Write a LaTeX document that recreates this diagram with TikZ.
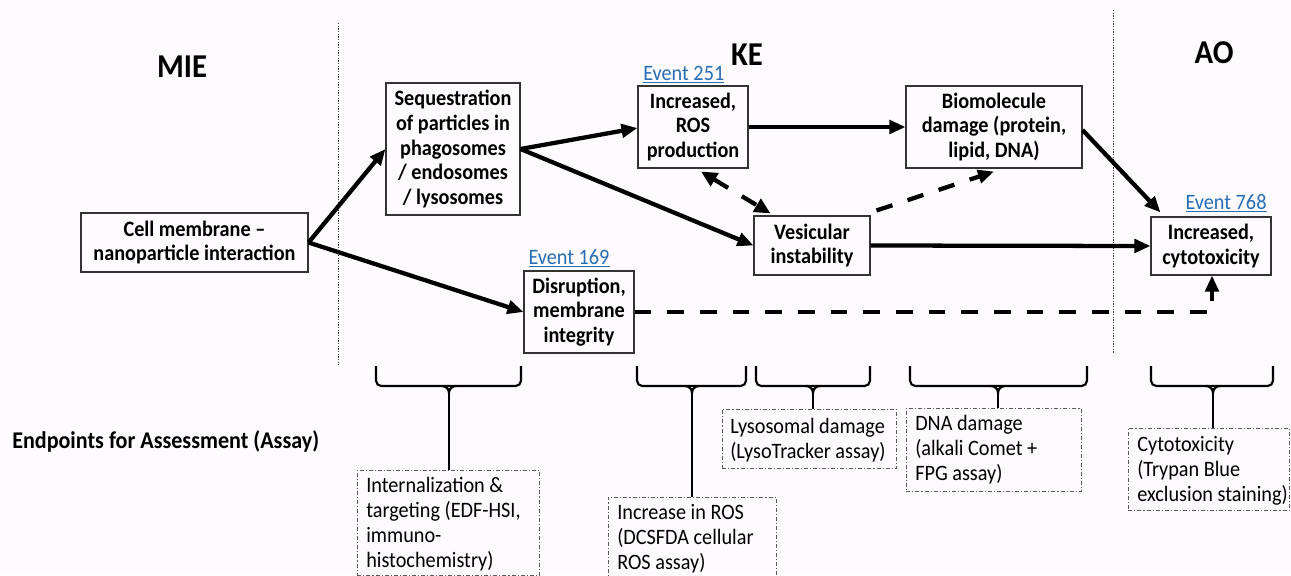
\documentclass[tikz,border=0pt]{standalone}
\usepackage{fontspec}
\setmainfont{Carlito}[FakeStretch=0.92]
\usetikzlibrary{arrows.meta,calc}
\definecolor{evblue}{RGB}{40,110,180}
\definecolor{bgc}{RGB}{253,251,253}
\newcommand\bxf{\fontsize{16.5}{18.4}\selectfont\bfseries}
\newcommand\epf{\fontsize{16.5}{18.75}\selectfont}
\newcommand\mybrace[4]{%
  \draw[brc,rounded corners=4pt] (#1,366) -- (#1,386) -- (#2,386) -- (#2,366);
  \draw[brc] ({#3-7},386) to[out=0,in=90] (#3,393) to[out=90,in=180] ({#3+7},386);
  \draw[brc] (#3,388) -- (#3,#4);}
\begin{document}
\begin{tikzpicture}[x=0.75pt,y=-0.75pt,
  box/.style={draw=black!80,line width=0.8pt,font=\bxf,align=center,inner sep=1pt},
  epbox/.style={draw=black!65,line width=0.6pt,dash pattern=on 3pt off 1.5pt on 0.8pt off 1.5pt,
    inner sep=0pt,anchor=north west},
  eptext/.style={font=\epf,align=left,inner sep=0pt,anchor=west},
  tip/.style={-{Triangle[length=12pt,width=10pt]}},
  arr/.style={line width=3.2pt,tip},
  dsh/.style={line width=3.2pt,dash pattern=on 12.5pt off 12pt},
  brc/.style={line width=1.6pt,black},
  sect/.style={font=\fontsize{25}{27}\selectfont\bfseries},
  ev/.style={font=\fontsize{16.5}{18}\selectfont,text=evblue,inner sep=0pt},
  vline/.style={line width=0.6pt,black!80,dash pattern=on 1pt off 1pt}]
\fill[bgc] (0,0) rectangle (1291,575);
\useasboundingbox (0,0) rectangle (1291,575);
% section lines
\coordinate (l1t) at (338,23); \coordinate (l1b) at (338,365);
\coordinate (l2t) at (1113,10); \coordinate (l2b) at (1113,353);
\draw[vline] (l1t) -- (l1b);
\draw[vline] (l2t) -- (l2b);
% section titles
\node[sect] (mie) at (182,67) {MIE};
\node[sect] (ke) at (747,55) {KE};
\node[sect] (ao) at (1214,53) {AO};
% boxes
\node[box,minimum width=170.25pt,minimum height=44.25pt] (cell) at (194.5,242.5) {Cell membrane –\\nanoparticle interaction};
\node[box,minimum width=100.5pt,minimum height=99pt] (seq) at (453,149) {Sequestration\\of particles in\\phagosomes\\/ endosomes\\/ lysosomes};
\node[box,minimum width=82.5pt,minimum height=61.5pt] (ros) at (693,127) {Increased,\\ROS\\production};
\node[box,minimum width=132pt,minimum height=61.5pt] (bio) at (994,127) {Biomolecule\\damage (protein,\\lipid, DNA)};
\node[box,minimum width=87pt,minimum height=44.25pt] (ves) at (812,245.5) {Vesicular\\instability};
\node[box,minimum width=82.5pt,minimum height=61.5pt] (dis) at (579,312) {Disruption,\\membrane\\integrity};
\node[box,minimum width=90pt,minimum height=43.5pt] (cyto) at (1211,246) {Increased,\\cytotoxicity};
% event labels
\node[ev,anchor=west] (e251) at (643,75) {\underline{Event 251}};
\node[ev] (e169) at (569,258) {\underline{Event 169}};
\node[ev] (e768) at (1226,203) {\underline{Event 768}};
% arrows
\draw[arr] (cell.east) -- (seq.west);
\draw[arr] (cell.east) -- (dis.west);
\draw[arr] (seq.east) -- ($(ros.west)+(0,1)$);
\draw[arr] (seq.east) -- (ves.west);
\draw[arr] (ros.east) -- (bio.west);
\draw[arr] ($(bio.east)+(0,3)$) -- ($(cyto.north west)+(10,-4)$);
\draw[arr] (ves.east) -- (cyto.west);
\draw[dsh,{Triangle[length=12pt,width=11pt]}-{Triangle[length=12pt,width=11pt]}] ($(ros.south)+(8,3)$) -- ($(ves.north west)+(17,-2)$);
\draw[dsh,tip] ($(ves.north east)+(6,-5)$) -- ($(bio.south)+(0,3)$);
\coordinate (dc) at (1212,312);
\draw[dsh,tip] (dis.east) -- (dc) -- (dc|-cyto.south);
% endpoints label
\node[font=\fontsize{18}{20}\selectfont\bfseries,anchor=west,inner sep=0pt] (endp) at (12,441) {Endpoints for Assessment (Assay)};
% endpoint boxes
\node[epbox,minimum width=136.5pt,minimum height=78.75pt] (ep1) at (357,470) {};
\node[eptext] (t1) at ($(ep1.west)+(9,1)$) {Internalization \&\\targeting (EDF-HSI,\\immuno-\\histochemistry)};
\node[epbox,minimum width=126pt,minimum height=61.5pt] (ep2) at (608,497) {};
\node[eptext] (t2) at ($(ep2.west)+(9,0)$) {Increase in ROS\\(DCSFDA cellular\\ROS assay)};
\node[epbox,minimum width=130.5pt,minimum height=44.25pt] (ep3) at (722,409) {};
\node[eptext] (t3) at ($(ep3.west)+(8,1)$) {Lysosomal damage\\(LysoTracker assay)};
\node[epbox,minimum width=131.25pt,minimum height=62.25pt] (ep4) at (906,408) {};
\node[eptext] (t4) at ($(ep4.west)+(9,0)$) {DNA damage\\(alkali Comet +\\FPG assay)};
\node[epbox,minimum width=120.75pt,minimum height=61.5pt] (ep5) at (1128,428) {};
\node[eptext] (t5) at ($(ep5.west)+(9,1)$) {Cytotoxicity\\(Trypan Blue\\exclusion staining)};
% braces
\mybrace{376}{521}{449}{470}
\mybrace{637}{746}{692}{497}
\mybrace{756}{870}{813}{409}
\mybrace{910}{1087}{998}{408}
\mybrace{1151}{1273}{1213}{428}
\end{tikzpicture}
\end{document}
